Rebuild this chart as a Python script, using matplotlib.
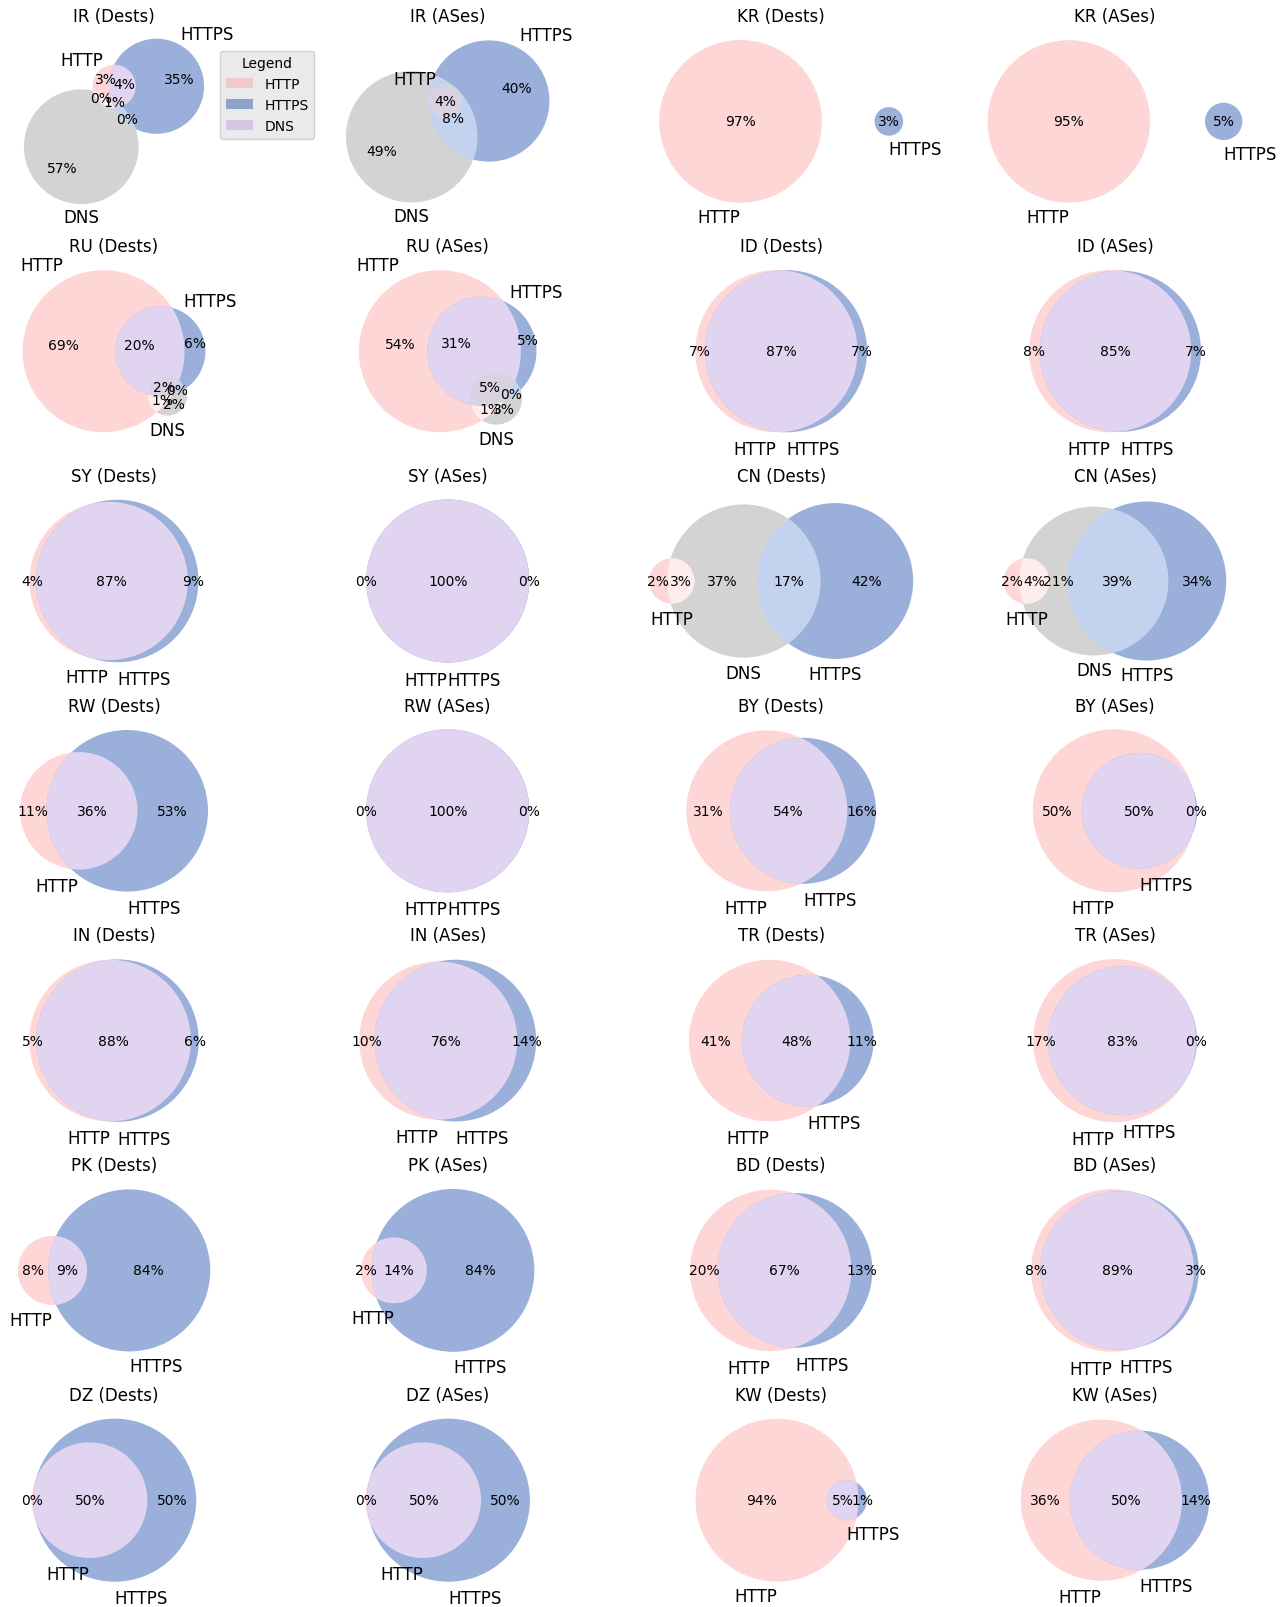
#!/usr/bin/env python3
"""
Venn grid: overlap of HTTP / HTTPS / DNS blocking per country,
for blocked destinations (Dests) and autonomous systems (ASes).
"""

import matplotlib

matplotlib.use("Agg")
import matplotlib.pyplot as plt
import numpy as np
from matplotlib.patches import Circle, Patch, Polygon

# ══════════════════════════════════════════════════════════════════
# Data (percent). "0%" labels are tiny non-zero shares (estimated).
# two sets:   HTTP only, HTTPS only, HTTP & HTTPS
# three sets: HTTP, HTTPS, HTTP&HTTPS, DNS, HTTP&DNS, HTTPS&DNS, all three
# ══════════════════════════════════════════════════════════════════
IR_DESTS = [3, 35, 4, 57, 0.3, 0.3, 1]
IR_ASES = [0, 40, 0, 49, 0, 8, 4]
KR_DESTS = [97, 3, 0]
KR_ASES = [95, 5, 0]
RU_DESTS = [69, 6, 20, 2, 1, 0.3, 2]
RU_ASES = [54, 5, 31, 3, 1, 0.3, 5]
ID_DESTS = [7, 7, 87]
ID_ASES = [8, 7, 85]
SY_DESTS = [4, 9, 87]
SY_ASES = [0.2, 0.2, 99.6]
CN_DESTS = [2, 42, 0, 37, 3, 17, 0]
CN_ASES = [2, 34, 0, 21, 4, 39, 0]
RW_DESTS = [11, 53, 36]
RW_ASES = [0.2, 0.2, 99.6]
BY_DESTS = [31, 16, 54]
BY_ASES = [50, 0.2, 50]
IN_DESTS = [5, 6, 88]
IN_ASES = [10, 14, 76]
TR_DESTS = [41, 11, 48]
TR_ASES = [17, 0.2, 83]
PK_DESTS = [8, 84, 9]
PK_ASES = [2, 84, 14]
BD_DESTS = [20, 13, 67]
BD_ASES = [8, 3, 89]
DZ_DESTS = [0.2, 50, 50]
DZ_ASES = [0.2, 50, 50]
KW_DESTS = [94, 1, 5]
KW_ASES = [36, 14, 50]

SET_NAMES = ["HTTP", "HTTPS", "DNS"]

GRID = [
    [("IR (Dests)", IR_DESTS), ("IR (ASes)", IR_ASES), ("KR (Dests)", KR_DESTS), ("KR (ASes)", KR_ASES)],
    [("RU (Dests)", RU_DESTS), ("RU (ASes)", RU_ASES), ("ID (Dests)", ID_DESTS), ("ID (ASes)", ID_ASES)],
    [("SY (Dests)", SY_DESTS), ("SY (ASes)", SY_ASES), ("CN (Dests)", CN_DESTS), ("CN (ASes)", CN_ASES)],
    [("RW (Dests)", RW_DESTS), ("RW (ASes)", RW_ASES), ("BY (Dests)", BY_DESTS), ("BY (ASes)", BY_ASES)],
    [("IN (Dests)", IN_DESTS), ("IN (ASes)", IN_ASES), ("TR (Dests)", TR_DESTS), ("TR (ASes)", TR_ASES)],
    [("PK (Dests)", PK_DESTS), ("PK (ASes)", PK_ASES), ("BD (Dests)", BD_DESTS), ("BD (ASes)", BD_ASES)],
    [("DZ (Dests)", DZ_DESTS), ("DZ (ASes)", DZ_ASES), ("KW (Dests)", KW_DESTS), ("KW (ASes)", KW_ASES)],
]

# base set colours, drawn with alpha like matplotlib-venn does
SET_COLORS = np.array([[255, 153, 153], [3, 58, 163], [145, 145, 145]]) / 255.0
ALPHA = 0.4

# figure geometry (pixels)
FW, FH = 1288, 1608
COL_X = [114, 447.7, 781.2, 1115]
ROW_TOP0, ROW_STEP = 26.4, 229.8
AX_W, AX_H = 320, 192

TOL = 1e-10
N_SAMPLES = 2400


def mix(*cols):
    f = 0.7 if len(cols) == 2 else 0.4
    return np.minimum(f * np.sum(cols, axis=0), 1.0)


def on_white(c):
    return 1 - ALPHA * (1 - np.asarray(c))


# ── geometry ───────────────────────────────────────────────────────
def overlap_area(r1, r2, d):
    if d >= r1 + r2:
        return 0.0
    if d <= abs(r1 - r2):
        return np.pi * min(r1, r2) ** 2
    a1 = r1**2 * np.arccos(np.clip((d * d + r1 * r1 - r2 * r2) / (2 * d * r1), -1, 1))
    a2 = r2**2 * np.arccos(np.clip((d * d + r2 * r2 - r1 * r1) / (2 * d * r2), -1, 1))
    k = 0.5 * np.sqrt(max((-d + r1 + r2) * (d + r1 - r2) * (d - r1 + r2) * (d + r1 + r2), 0))
    return a1 + a2 - k


def distance_for_area(r1, r2, area):
    if area < TOL:
        return r1 + r2
    if area >= np.pi * min(r1, r2) ** 2 - TOL:
        return abs(r1 - r2)
    lo, hi = abs(r1 - r2), r1 + r2
    for _ in range(200):
        mid = (lo + hi) / 2
        if overlap_area(r1, r2, mid) > area:
            lo = mid
        else:
            hi = mid
    return (lo + hi) / 2


def centre_of_mass(coords, radii):
    w = radii**2
    return coords - np.dot(w, coords) / w.sum()


def layout2(subsets):
    s = np.array(subsets, float)
    s = s / s.sum()
    a, b, ab = s[0] + s[2], s[1] + s[2], s[2]
    radii = np.sqrt(np.array([a, b]) / np.pi)
    coords = np.zeros((2, 2))
    if ab > TOL:
        coords[1, 0] = distance_for_area(radii[0], radii[1], ab)
    else:
        coords[1, 0] = radii.sum() + max(radii.mean() * 1.1, 0.2)
    return centre_of_mass(coords, radii), radii


def layout3(subsets):
    s = np.array(subsets, float)
    s = s / s.sum()
    a = s[0] + s[2] + s[4] + s[6]
    b = s[1] + s[2] + s[5] + s[6]
    c = s[3] + s[4] + s[5] + s[6]
    inter = [s[2] + s[6], s[5] + s[6], s[4] + s[6]]  # ab, bc, ca
    radii = np.sqrt(np.array([a, b, c]) / np.pi)
    pairs = [(0, 1), (1, 2), (2, 0)]
    dists = [distance_for_area(radii[i], radii[j], inter[n]) for n, (i, j) in enumerate(pairs)]
    nonzero = sum(x > TOL for x in inter)
    coords = np.zeros((3, 2))
    if nonzero == 3:
        for i in range(3):
            j, k = (i + 1) % 3, (i + 2) % 3
            if dists[i] > dists[j] + dists[k]:
                lo, hi = (j, k) if dists[j] < dists[k] else (k, j)
                dists[i] = dists[hi] + dists[lo] * 0.8
        d_ab, d_bc, d_ac = dists
        coords[1, 0] = d_ab
        cx = (d_ac**2 - d_bc**2 + d_ab**2) / (2 * d_ab) if d_ab > TOL else 0.0
        coords[2] = cx, -np.sqrt(max(d_ac**2 - cx**2, 0.0))
    elif nonzero == 2:
        for i in range(3):
            if inter[i] < TOL:
                left, right, middle = i, (i + 1) % 3, (i + 2) % 3
                coords[middle, 0] = dists[middle]
                coords[right, 0] = dists[middle] + dists[right]
                if coords[left, 0] + radii[left] > coords[right, 0] - radii[right]:
                    m = (coords[left, 0] + radii[left] + coords[right, 0] - radii[right]) / 2
                    coords[left, 0] = m - radii[left] - 1e-5
                    coords[right, 0] = m + radii[right] + 1e-5
                break
    elif nonzero == 1:
        for i in range(3):
            if inter[i] > TOL:
                left, right, side = i, (i + 1) % 3, (i + 2) % 3
                coords[right, 0] = dists[left]
                coords[side, 0] = dists[left] + radii[right] + radii[side] * 1.1
                break
    else:
        coords[1, 0] = radii[0] + radii[1] * 1.1
        coords[2, 0] = coords[1, 0] + radii[1] + radii[2] * 1.1
    return centre_of_mass(coords, radii), radii, nonzero


def common_polygon(centers, radii, idx, n=N_SAMPLES):
    th = np.linspace(0, 2 * np.pi, n, endpoint=False)
    pts = []
    for k in idx:
        p = centers[k] + radii[k] * np.c_[np.cos(th), np.sin(th)]
        ok = np.ones(n, bool)
        for m in idx:
            if m != k:
                ok &= np.hypot(p[:, 0] - centers[m][0], p[:, 1] - centers[m][1]) <= radii[m] + 1e-9
        pts.append(p[ok])
    pts = np.vstack(pts)
    if len(pts) < 3:
        return None
    c = pts.mean(axis=0)
    return pts[np.argsort(np.arctan2(pts[:, 1] - c[1], pts[:, 0] - c[0]))]


def touch_points(centers, radii, k):
    """Points where another circle touches circle k from inside/outside."""
    pts = []
    for m in range(len(radii)):
        if m == k:
            continue
        d = np.hypot(*(centers[m] - centers[k]))
        if d > 1e-9 and abs(d - abs(radii[k] - radii[m])) < 1e-9:
            u = (centers[m] - centers[k]) / d
            sign = 1.0 if radii[m] < radii[k] else -1.0
            pts.append(centers[k] + sign * radii[k] * u)
    return pts


def region_arcs(centers, radii, member, n=N_SAMPLES):
    th = np.linspace(0, 2 * np.pi, n, endpoint=False)
    arcs = []
    for k in range(len(radii)):
        p = centers[k] + radii[k] * np.c_[np.cos(th), np.sin(th)]
        ok = np.ones(n, bool)
        for m in range(len(radii)):
            if m == k:
                continue
            dist = np.hypot(p[:, 0] - centers[m][0], p[:, 1] - centers[m][1])
            ok &= (dist <= radii[m] + 1e-7) if member[m] else (dist >= radii[m] - 1e-7)
        if ok.all():
            arcs.append((k, None, 2 * np.pi * radii[k], p))
            continue
        order = np.roll(np.arange(n), -int(np.argmin(ok)))
        vals = ok[order]
        i = 0
        while i < n:
            if vals[i]:
                j = i
                while j < n and vals[j]:
                    j += 1
                run = order[i:j]
                if len(run) > 1:
                    arcs.append((k, p[run[len(run) // 2]], len(run) * 2 * np.pi * radii[k] / n, p[run]))
                i = j
            else:
                i += 1
    return arcs


def label_point3(centers, radii, member):
    arcs = region_arcs(centers, radii, member)
    part = [a for a in arcs if a[1] is not None]
    if not part:
        own = [a for a in arcs if member[a[0]]]
        return centers[own[0][0]] if own else None

    # arcs touched by another circle count as split in two
    n_arcs = len(part)
    for k, _, length, pts in part:
        step = 2 * np.pi * radii[k] / N_SAMPLES
        inner = pts[3:-3]
        for t in touch_points(centers, radii, k):
            if len(inner) and np.min(np.hypot(*(inner - t).T)) < 2 * step:
                n_arcs += 1

    def inside(q):
        return all(
            (np.hypot(*(q - centers[m])) < radii[m]) == bool(member[m]) for m in range(len(radii))
        )

    cands = []
    if n_arcs == 3:
        k, mid, _, _ = max(part, key=lambda a: a[2])
        cands.append((mid + centers[k]) / 2)
        two = sorted(part, key=lambda a: a[2])[-2:]
        cands.append(np.mean([a[1] for a in two], axis=0))
    cands.append(np.mean([a[1] for a in part], axis=0))
    for q in cands:
        if inside(q):
            return q
    return cands[-1]


def fmt(v):
    return f"{v:.0f}%"


# ── drawing ────────────────────────────────────────────────────────
def draw_venn2(ax, subsets):
    centers, radii = layout2(subsets)
    fills = [on_white(SET_COLORS[0]), on_white(SET_COLORS[1]), on_white(mix(SET_COLORS[0], SET_COLORS[1]))]
    for k in range(2):
        ax.add_patch(Circle(centers[k], radii[k], facecolor=fills[k], edgecolor="none"))
    lens = common_polygon(centers, radii, [0, 1])
    if lens is not None and subsets[2] > 0:
        ax.add_patch(Polygon(lens, closed=True, facecolor=fills[2], edgecolor="none"))

    (ax0, ay), (bx0, by) = centers
    ra, rb = radii
    if subsets[2] > 0:
        a_l, a_r = np.array([ax0 - ra, ay]), np.array([ax0 + ra, ay])
        b_l, b_r = np.array([bx0 - rb, by]), np.array([bx0 + rb, by])
        spots = [(a_l + b_l) / 2, (b_r + a_r) / 2, (a_r + b_l) / 2]
    else:
        spots = [centers[0], centers[1], None]
    for v, q in zip(subsets, spots):
        if q is not None and v > 0:
            ax.text(q[0], q[1], fmt(v), ha="center", va="center", fontsize=10)

    pad = np.mean(radii * 0.1)
    ax.text(ax0, ay - ra - pad, SET_NAMES[0], ha="right", va="top", fontsize="large")
    ax.text(bx0, by - rb - pad, SET_NAMES[1], ha="left", va="top", fontsize="large")
    return centers, radii


def draw_venn3(ax, subsets):
    centers, radii, nonzero = layout3(subsets)
    c = SET_COLORS
    for k in range(3):
        ax.add_patch(Circle(centers[k], radii[k], facecolor=on_white(c[k]), edgecolor="none"))
    for idx in ([0, 1], [0, 2], [1, 2], [0, 1, 2]):
        poly = common_polygon(centers, radii, idx)
        if poly is not None:
            col = on_white(mix(*[c[i] for i in idx]))
            ax.add_patch(Polygon(poly, closed=True, facecolor=col, edgecolor="none"))

    members = [(1, 0, 0), (0, 1, 0), (1, 1, 0), (0, 0, 1), (1, 0, 1), (0, 1, 1), (1, 1, 1)]
    for v, mem in zip(subsets, members):
        if v <= 0:
            continue
        q = label_point3(centers, radii, mem)
        if q is not None:
            ax.text(q[0], q[1], fmt(v), ha="center", va="center", fontsize=10)

    pad = np.mean(radii * 0.1)
    if nonzero == 3:
        ax.text(centers[0][0] - radii[0] / 2, centers[0][1] + radii[0], SET_NAMES[0],
                ha="right", va="baseline", fontsize="large")
        ax.text(centers[1][0] + radii[1] / 2, centers[1][1] + radii[1], SET_NAMES[1],
                ha="left", va="baseline", fontsize="large")
        ax.text(centers[2][0], centers[2][1] - radii[2] - pad, SET_NAMES[2],
                ha="center", va="top", fontsize="large")
    else:
        for k in range(3):
            ax.text(centers[k][0], centers[k][1] - radii[k] - pad, SET_NAMES[k],
                    ha="center", va="top", fontsize="large")
    return centers, radii


def main():
    fig = plt.figure(figsize=(FW / 100, FH / 100), dpi=100)

    for r, row in enumerate(GRID):
        top = ROW_TOP0 + r * ROW_STEP
        for col, (title, subsets) in enumerate(row):
            cx = COL_X[col]
            ax = fig.add_axes(
                [(cx - AX_W / 2) / FW, 1 - (top + AX_H) / FH, AX_W / FW, AX_H / FH]
            )
            if len(subsets) == 3:
                centers, radii = draw_venn2(ax, subsets)
            else:
                centers, radii = draw_venn3(ax, subsets)
            ax.set_aspect("equal")
            ax.set_xlim((centers[:, 0] - radii).min() - 0.1, (centers[:, 0] + radii).max() + 0.1)
            ax.set_ylim((centers[:, 1] - radii).min() - 0.1, (centers[:, 1] + radii).max() + 0.1)
            ax.set_axis_off()
            ax.set_title(title, fontsize=12, pad=3)

    handles = [
        Patch(facecolor=SET_COLORS[0], alpha=ALPHA),
        Patch(facecolor=SET_COLORS[1], alpha=ALPHA),
        Patch(facecolor=mix(SET_COLORS[0], SET_COLORS[1]), alpha=ALPHA),
    ]
    fig.legend(
        handles,
        SET_NAMES,
        title="Legend",
        loc="upper left",
        bbox_to_anchor=(220 / FW, 1 - 51.7 / FH),
        borderaxespad=0,
        facecolor="#EAEAEA",
        edgecolor="#D2D2D2",
        framealpha=1,
    )

    fig.savefig("out.png", dpi=100)
    plt.close(fig)


if __name__ == "__main__":
    main()
